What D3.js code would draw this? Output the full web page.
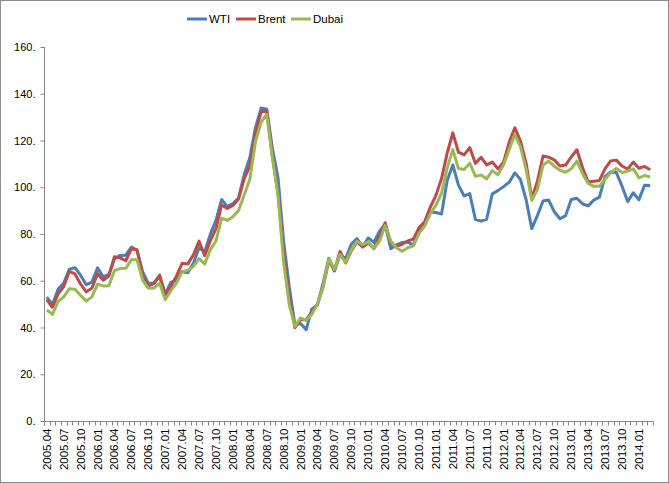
<!DOCTYPE html>
<html><head><meta charset="utf-8">
<script src="https://cdn.jsdelivr.net/npm/d3@7"></script>
<style>body{margin:0;background:#fff}svg{display:block}text{font-family:"Liberation Sans",Arial,sans-serif}</style>
</head><body>
<script>
// monthly categories 2005.04 .. 2014.03
const categories = [];
for (let y = 2005; y <= 2014; y++) for (let m = 1; m <= 12; m++) {
  if ((y === 2005 && m < 4) || (y === 2014 && m > 3)) continue;
  categories.push(y + "." + String(m).padStart(2, "0"));
}
const wti = [52.98,49.83,56.35,58.99,64.98,65.59,62.26,58.32,59.41,
65.49,61.63,62.69,69.44,70.84,70.95,74.41,73.04,63.80,58.89,59.08,61.96,
54.51,59.28,60.44,63.98,63.46,67.49,74.12,72.36,79.92,85.80,94.77,91.69,
92.97,95.39,105.45,112.58,125.40,133.88,133.37,116.67,104.11,76.61,57.31,41.12,
41.71,39.09,47.94,49.65,59.03,69.64,64.15,71.05,69.41,75.72,77.99,74.47,
78.33,76.39,81.20,84.29,73.74,75.34,76.32,76.60,75.24,81.89,84.25,89.15,
89.17,88.58,102.86,109.53,100.90,96.26,97.30,86.33,85.52,86.32,97.16,98.56,
100.27,102.20,106.16,103.32,94.66,82.30,87.90,94.13,94.51,89.49,86.53,87.86,
94.76,95.31,92.94,92.02,94.51,95.77,104.67,106.57,106.29,100.54,93.86,97.63,
94.62,100.82,100.80];
const brent = [51.88,48.65,54.35,57.52,63.98,62.91,58.54,55.24,56.86,
62.99,60.21,62.06,70.26,69.78,68.56,73.67,73.23,61.96,57.81,58.76,62.47,
53.68,57.56,62.05,67.49,67.21,71.05,76.93,70.76,77.17,82.34,92.41,90.93,
92.18,94.99,103.64,109.07,122.80,132.32,132.72,113.24,97.23,71.58,52.45,39.95,
43.44,43.32,46.54,50.18,57.30,68.61,64.44,72.51,67.65,72.77,76.66,74.46,
76.17,73.75,78.83,84.82,75.95,74.76,75.58,77.04,77.84,82.67,85.28,91.45,
96.52,103.72,114.64,123.26,114.99,113.83,116.97,110.22,112.83,109.55,110.77,107.87,
110.69,119.33,125.45,119.75,110.34,95.16,102.62,113.36,112.86,111.71,109.06,109.49,
112.96,116.05,108.47,102.25,102.56,102.92,107.93,111.28,111.60,109.08,107.79,110.76,
108.12,108.90,107.48];
const dubai = [47.5,45.6,51.2,53.1,56.6,56.4,53.7,51.3,53.1,
58.5,57.8,57.9,64.4,65.2,65.3,69.0,69.0,60.2,56.8,56.8,58.9,
51.9,55.8,59.0,63.8,64.5,66.1,69.5,67.2,73.3,77.0,86.8,85.8,
87.4,90.1,96.7,103.4,119.5,127.8,131.2,112.9,96.6,67.8,49.7,40.5,
44.1,43.1,45.6,50.1,57.5,69.4,64.8,71.3,67.8,73.2,76.9,75.4,
76.7,73.8,76.9,83.6,76.9,74.1,72.6,74.1,74.9,80.3,83.4,88.6,
92.3,97.4,108.2,116.1,108.0,107.6,110.3,104.7,105.2,103.6,107.1,105.3,
109.5,116.2,122.5,117.4,107.6,94.4,99.1,109.5,111.2,108.9,107.3,106.4,
107.9,111.2,105.9,101.6,100.4,100.4,103.5,106.2,108.0,106.3,106.9,107.9,
104.0,105.0,104.4];
const yTicks = [0,20,40,60,80,100,120,140,160];
const seriesNames = ["WTI","Brent","Dubai"];
const colors = ["#4A7EBB","#BE4B48","#98B954"];

const W = 669, H = 483;
const svg = d3.select("body").append("svg").attr("width", W).attr("height", H);
svg.append("rect").attr("x",0.5).attr("y",0.5).attr("width",W-1).attr("height",H-1)
  .attr("fill","#fff").attr("stroke","#8c8c8c");

const x = d3.scaleBand().domain(categories).range([44, 653]).padding(0);
const y = d3.scaleLinear().domain([0,160]).range([421, 47]);
const cx = c => x(c) + x.bandwidth()/2;

// y axis
const ya = svg.append("g").attr("transform","translate(44.5,0)")
  .call(d3.axisLeft(y).tickValues(yTicks).tickSize(4).tickPadding(5).tickFormat(d => d + "."));
ya.select(".domain").attr("stroke","#868686").attr("d","M0,47V421");
ya.selectAll(".tick line").attr("stroke","#868686");
ya.selectAll(".tick text").attr("font-size","11px").attr("fill","#000")
  .attr("font-family","Liberation Sans, Arial, sans-serif");

// x axis
const xg = svg.append("g").attr("transform","translate(0,421.5)");
xg.append("line").attr("x1",44).attr("x2",653).attr("stroke","#868686");
const bounds = categories.map(c => x(c)).concat([x(categories[categories.length-1]) + x.bandwidth()]);
xg.selectAll("line.tk").data(bounds).join("line").attr("class","tk")
  .attr("x1", d => Math.round(d)+0.5).attr("x2", d => Math.round(d)+0.5)
  .attr("y1",0).attr("y2",4).attr("stroke","#868686");
const labelCats = categories.filter((c,i) => i % 3 === 0);
xg.selectAll("text").data(labelCats).join("text")
  .attr("transform", d => `translate(${cx(d)+4},7) rotate(-90)`)
  .attr("text-anchor","end").attr("font-size","11.5px").attr("fill","#000")
  .text(d => d);

// lines
const data = [wti, brent, dubai];
const line = d3.line().x((d,i) => cx(categories[i])).y(d => y(d));
data.forEach((s,k) => {
  svg.append("path").datum(s).attr("d", line).attr("fill","none")
    .attr("stroke", colors[k]).attr("stroke-width",3).attr("stroke-linejoin","round");
});

// legend
const legX = [187, 236, 291];
seriesNames.forEach((n,k) => {
  const g = svg.append("g").attr("transform",`translate(${legX[k]},19)`);
  g.append("line").attr("x1",0).attr("x2",20).attr("stroke",colors[k]).attr("stroke-width",3);
  g.append("text").attr("x",22).attr("y",4).attr("font-size","11.5px").attr("fill","#000").text(n);
});
</script>
</body></html>
